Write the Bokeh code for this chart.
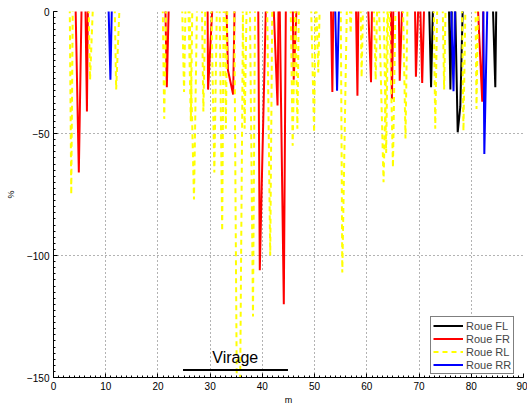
from bokeh.plotting import figure
from bokeh.models import Range1d, FixedTicker, Label
from bokeh.embed import file_html
from bokeh.resources import INLINE

TOP = 5  # spikes come down from above the visible range

x_ticks = [0, 10, 20, 30, 40, 50, 60, 70, 80, 90]
y_ticks = [-150, -100, -50, 0]

# Roue FL (black)
FL_x = [[71.9, 72.3, 72.7], [75.7, 76.0, 76.3], [76.9, 77.4, 77.9, 78.4], [84.1, 84.6, 84.8]]
FL_y = [[TOP, -31, TOP], [TOP, -32, TOP], [TOP, -49.5, -39, TOP], [TOP, -31, TOP]]

# Roue FR (red)
FR_x = [[4.2, 4.85, 5.4], [6.1, 6.4, 6.6], [21.4, 21.7, 22.1], [29.5, 29.6, 30.5],
        [33.1, 33.4, 34.4, 34.7], [39.2, 39.5, 40.7], [42.1, 42.9, 43.1], [43.3, 44.1, 44.5],
        [45.8, 46.0, 46.6], [53.1, 53.4, 53.6], [57.9, 58.2, 58.4], [60.2, 60.8, 61.0],
        [64.6, 64.8, 65.1], [66.1, 66.3, 66.8], [69.2, 69.4, 69.9], [70.2, 70.6, 71.0],
        [81.2, 82.1, 82.3]]
FR_y = [[TOP, -66, TOP], [TOP, -41, TOP], [TOP, -31, TOP], [TOP, -32, TOP],
        [TOP, -24, -34, TOP], [TOP, -106, TOP], [TOP, -38.5, TOP], [TOP, -120, TOP],
        [TOP, -28, TOP], [TOP, -33, TOP], [TOP, -34.5, TOP], [TOP, -29, TOP],
        [TOP, -36, TOP], [TOP, -28.4, TOP], [TOP, -26.7, TOP], [TOP, -29.3, TOP],
        [TOP, -37, TOP]]

# Roue RL (yellow, dashed)
RL_x = [[3.1, 3.4, 3.7], [6.7, 7.0, 7.6], [11.7, 12.0, 12.7], [20.9, 21.2, 21.6],
        [24.6, 25.0, 25.3], [25.8, 26.3, 26.6], [26.0, 26.9, 27.5], [28.4, 28.7, 29.1],
        [30.2, 30.8, 31.3], [31.8, 32.3, 32.6], [32.8, 33.0, 33.3], [34.6, 35.4, 36.3],
        [36.2, 36.6, 37.0], [37.6, 38.2, 38.6], [40.9, 41.5, 41.9], [45.4, 45.8, 46.3],
        [46.3, 46.7, 47.0], [49.3, 49.9, 50.2], [50.3, 50.7, 51.0], [55.0, 55.3, 56.2],
        [56.7, 56.9, 57.1], [58.8, 59.0, 59.3], [61.3, 61.7, 62.0], [62.3, 63.2, 64.0],
        [63.2, 63.7, 64.1], [64.3, 65.0, 65.5], [66.9, 67.4, 67.8], [72.8, 73.1, 73.5],
        [74.5, 74.8, 75.1], [78.2, 78.5, 78.9], [80.8, 81.0, 81.3]]
RL_y = [[TOP, -75, TOP], [TOP, -28, TOP], [TOP, -32, TOP], [TOP, -44, TOP],
        [TOP, -33, TOP], [TOP, -45, TOP], [TOP, -77, TOP], [TOP, -41, TOP],
        [TOP, -66, TOP], [TOP, -90, TOP], [TOP, -48, TOP], [TOP, -250, TOP],
        [TOP, -48, TOP], [TOP, -125, TOP], [TOP, -100, TOP], [TOP, -55, TOP],
        [TOP, -48, TOP], [TOP, -49.6, TOP], [TOP, -25, TOP], [TOP, -107, TOP],
        [TOP, -9, TOP], [TOP, -27, TOP], [TOP, -28, TOP], [TOP, -70, TOP],
        [TOP, -58, TOP], [TOP, -64, TOP], [TOP, -52, TOP], [TOP, -48, TOP],
        [TOP, -32, TOP], [TOP, -49, TOP], [TOP, -40, TOP]]

# Roue RR (blue)
RR_x = [[10.5, 10.9, 11.2], [53.9, 54.3, 54.7], [76.1, 76.6, 76.9], [82.3, 82.5, 83.1]]
RR_y = [[TOP, -28, TOP], [TOP, -32.5, TOP], [TOP, -32.7, TOP], [TOP, -58.4, TOP]]

# "Virage" annotation
virage_x = [24.8, 44.9]
virage_y = [-146.9, -146.9]
virage_text = "Virage"
virage_text_x = 30.4
virage_text_y = -142.0

p = figure(width=527, height=407, output_backend="svg", toolbar_location=None,
           x_range=Range1d(0, 90), y_range=Range1d(-150, 0),
           min_border_left=53, min_border_right=4, min_border_top=11, min_border_bottom=25)
p.outline_line_color = None
p.background_fill_color = "white"
p.border_fill_color = "white"

p.multi_line(FL_x, FL_y, line_color="black", line_width=2, legend_label="Roue FL")
p.multi_line(FR_x, FR_y, line_color="red", line_width=2, legend_label="Roue FR")
p.multi_line(RL_x, RL_y, line_color="yellow", line_width=2, line_dash="5 4", legend_label="Roue RL")
p.multi_line(RR_x, RR_y, line_color="blue", line_width=2, legend_label="Roue RR")

p.line(virage_x, virage_y, line_color="black", line_width=2)
p.add_layout(Label(x=virage_text_x, y=virage_text_y, text=virage_text,
                   text_font="Liberation Sans", text_font_size="16px",
                   text_baseline="alphabetic", text_color="black"))

x_minor = list(range(0, 91))
y_minor = [-150 + 2.5 * i for i in range(61)]
p.xaxis.ticker = FixedTicker(ticks=x_ticks, minor_ticks=x_minor)
p.yaxis.ticker = FixedTicker(ticks=y_ticks, minor_ticks=y_minor)

for ax in (p.xaxis, p.yaxis):
    ax.axis_line_color = "black"
    ax.axis_line_width = 1
    ax.major_tick_in = 4
    ax.major_tick_out = 0
    ax.minor_tick_in = 2
    ax.minor_tick_out = 0
    ax.major_tick_line_color = "black"
    ax.minor_tick_line_color = "black"
    ax.major_label_text_font = "Liberation Sans"
    ax.major_label_text_font_size = "10px"
    ax.major_label_text_color = "black"
    ax.axis_label_text_font = "Liberation Sans"
    ax.axis_label_text_font_size = "9px"
    ax.axis_label_text_font_style = "normal"
    ax.axis_label_text_color = "black"
    ax.major_label_standoff = 4

p.xaxis.axis_label = "m"
p.yaxis.axis_label = "%"
p.xaxis.axis_label_standoff = 2
p.yaxis.axis_label_standoff = 8

for g in (p.xgrid, p.ygrid):
    g.grid_line_color = "#666666"
    g.grid_line_dash = "1 3"
    g.grid_line_width = 1
p.xgrid.ticker = FixedTicker(ticks=x_ticks)
p.ygrid.ticker = FixedTicker(ticks=y_ticks)

lg = p.legend[0]
lg.location = (377, 3)
lg.border_line_color = "black"
lg.border_line_width = 1.5
lg.background_fill_color = "white"
lg.background_fill_alpha = 1
lg.label_text_font = "Liberation Sans"
lg.label_text_font_size = "11px"
lg.glyph_width = 30
lg.glyph_height = 13
lg.label_height = 13
lg.label_standoff = 3
lg.spacing = 0
lg.padding = 2
lg.margin = 0

open("out.html", "w").write(file_html(p, INLINE))
